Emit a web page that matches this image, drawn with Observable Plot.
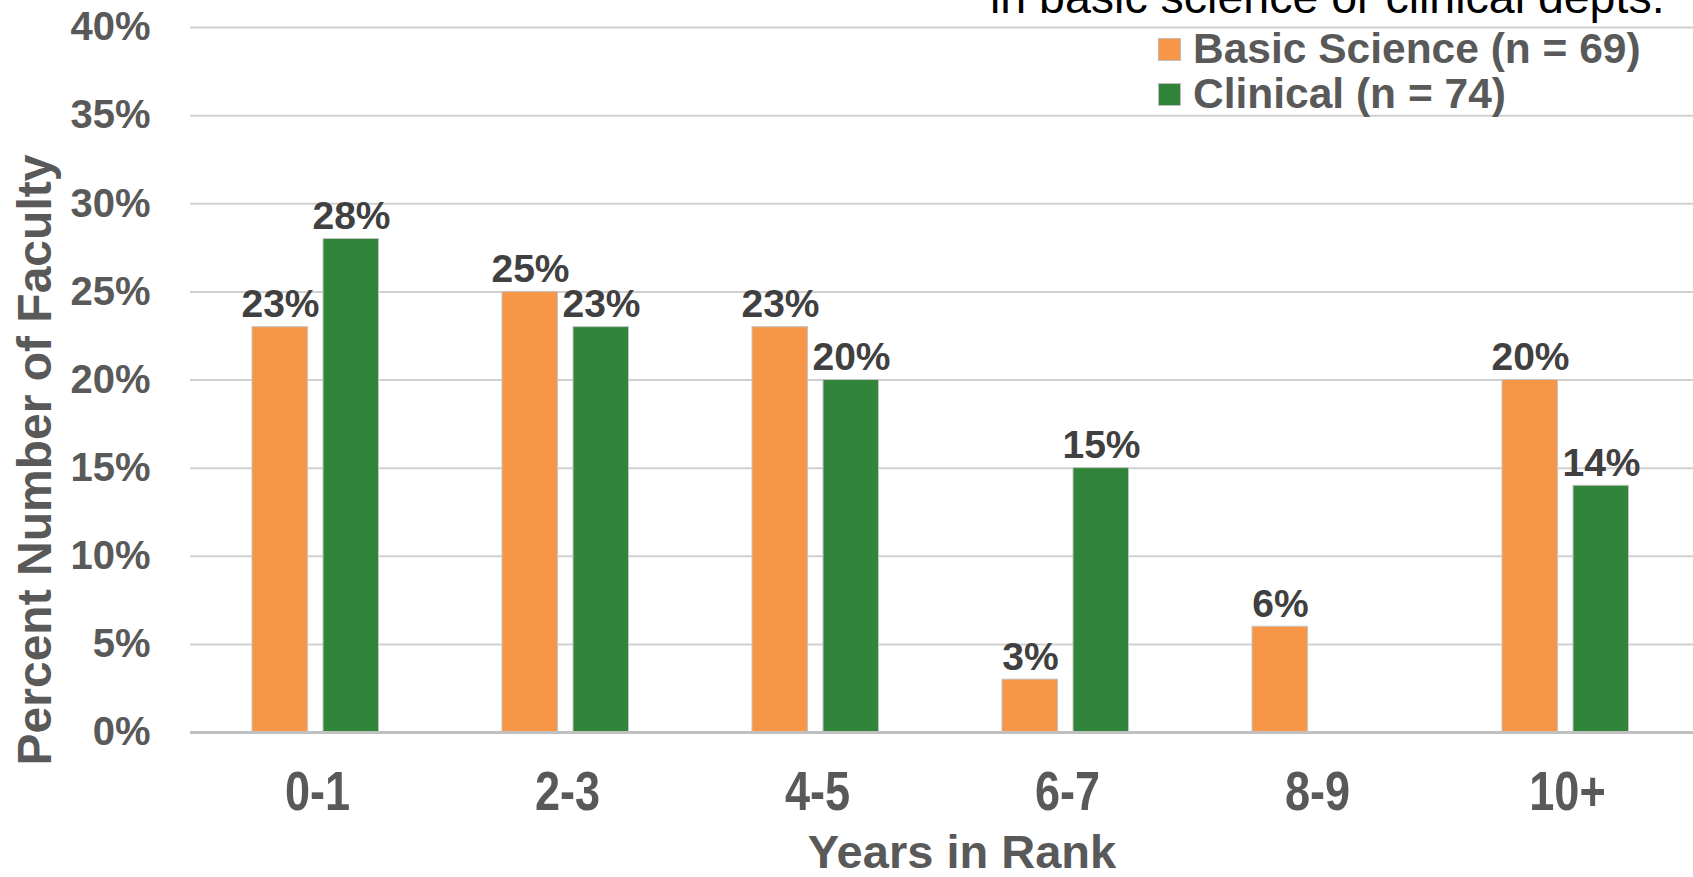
<!DOCTYPE html>
<html>
<head>
<meta charset="utf-8">
<script src="https://cdn.jsdelivr.net/npm/d3@7"></script>
<script src="https://cdn.jsdelivr.net/npm/@observablehq/plot@0.6"></script>
<style>
  html, body { margin: 0; padding: 0; background: #fff; overflow: hidden; }
  #wrap { position: relative; width: 1693px; height: 877px; overflow: hidden; font-family: "Liberation Sans", Arial, sans-serif; }
  #title { position: absolute; left: 990px; top: -26px; font-size: 46.5px; line-height: 46px; color: #000; white-space: nowrap; }
  #legend { position: absolute; left: 1158px; top: 28px; }
  .lrow { display: flex; align-items: center; height: 42px; margin-bottom: 3px; }
  .lsw { width: 23px; height: 23px; margin-right: 12px; box-sizing: border-box; border: 1px solid #bdbdbd; }
  .ltx { font-size: 42.5px; line-height: 42px; font-weight: bold; color: #595959; white-space: nowrap; }
  #ylabel { position: absolute; left: 35px; top: 460px; transform: translate(-50%, -50%) rotate(-90deg); font-size: 48px; line-height: 48px; font-weight: bold; color: #595959; white-space: nowrap; }
  #chart svg { display: block; }
</style>
</head>
<body>
<div id="wrap">
  <div id="chart"></div>
  <div id="title"></div>
  <div id="legend"></div>
  <div id="ylabel"></div>
</div>
<script>
// ---- data ----
const categories = ["0-1", "2-3", "4-5", "6-7", "8-9", "10+"];
const basicScience = [23, 25, 23, 3, 6, 20];
const clinical = [28, 23, 20, 15, null, 14];
const seriesNames = ["Basic Science (n = 69)", "Clinical (n = 74)"];
const seriesColors = ["#F79646", "#31853A"];
const yTicks = [0, 5, 10, 15, 20, 25, 30, 35, 40];
const titleText = "in basic science or clinical depts.";
const yLabel = "Percent Number of Faculty";
const xLabel = "Years in Rank";

const basicRows = categories.map((c, i) => ({cat: c, value: basicScience[i]})).filter(d => d.value != null);
const clinicalRows = categories.map((c, i) => ({cat: c, value: clinical[i]})).filter(d => d.value != null);

const labelStyle = {fontSize: 39, fontWeight: "bold", fill: "#404040", lineAnchor: "bottom", dy: -10};

const chart = Plot.plot({
  width: 1693,
  height: 877,
  marginLeft: 190,
  marginRight: 0,
  marginTop: 27,
  marginBottom: 145,
  style: {fontFamily: "Liberation Sans, Arial, sans-serif", color: "#595959", background: "#fff"},
  x: {domain: categories, padding: 0, axis: null},
  y: {domain: [0, 40], axis: null},
  marks: [
    Plot.ruleY(yTicks.filter(t => t > 0), {stroke: "#d0d0d0", strokeWidth: 2}),
    Plot.barY(basicRows, {x: "cat", y: "value", fill: seriesColors[0], stroke: "#c4c4c4", strokeWidth: 1, insetLeft: 60, insetRight: 134.5}),
    Plot.barY(clinicalRows, {x: "cat", y: "value", fill: seriesColors[1], stroke: "#c4c4c4", strokeWidth: 1, insetLeft: 131, insetRight: 63.5}),
    Plot.ruleY([0], {stroke: "#c0c0c0", strokeWidth: 3}),
    Plot.text(basicRows, {x: "cat", y: "value", text: d => d.value + "%", dx: -37, ...labelStyle}),
    Plot.text(clinicalRows, {x: "cat", y: "value", text: d => d.value + "%", dx: 34, ...labelStyle}),
    Plot.axisY(yTicks, {tickSize: 0, tickPadding: 40, tickFormat: d => d + "%", fontSize: 40, fontWeight: "bold", fill: "#595959", label: null}),
    Plot.axisX(categories, {tickSize: 0, tickPadding: 38, fontSize: 55, fontWeight: "bold", fill: "#595959", label: null}),
    Plot.text([xLabel], {frameAnchor: "bottom", dx: 20, dy: 135, lineAnchor: "bottom", fontSize: 47, fontWeight: "bold", fill: "#595959"})
  ]
});
document.getElementById("chart").appendChild(chart);

// condensed look for the x tick labels (horizontal squeeze about each label's anchor)
d3.select(chart).selectAll('g[aria-label="x-axis tick label"] text').each(function() {
  const x = +this.getAttribute("x") || 0;
  const y = +this.getAttribute("y") || 0;
  const t = this.getAttribute("transform") || "";
  this.setAttribute("transform", `${t} translate(${x},${y}) scale(0.82,1) translate(${-x},${-y})`);
});

document.getElementById("title").textContent = titleText;
document.getElementById("ylabel").textContent = yLabel;
const legend = document.getElementById("legend");
seriesNames.forEach((name, i) => {
  const row = document.createElement("div");
  row.className = "lrow";
  const sw = document.createElement("div");
  sw.className = "lsw";
  sw.style.background = seriesColors[i];
  const tx = document.createElement("div");
  tx.className = "ltx";
  tx.textContent = name;
  row.appendChild(sw);
  row.appendChild(tx);
  legend.appendChild(row);
});
</script>
</body>
</html>
